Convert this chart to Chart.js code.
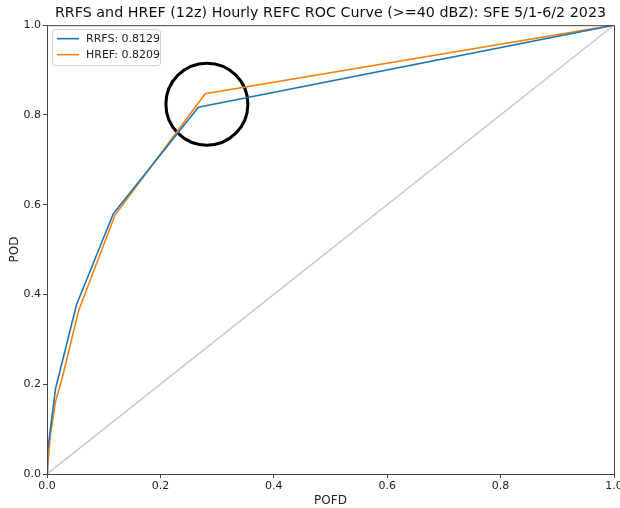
<!DOCTYPE html>
<html>
<head>
<meta charset="utf-8">
<script src="https://cdn.jsdelivr.net/npm/chart.js@4"></script>
<style>
  html, body { margin: 0; padding: 0; background: #fff; }
  #wrap { width: 620px; height: 508px; }
</style>
</head>
<body>
<div id="wrap"><canvas id="roc" width="620" height="508"></canvas></div>
<script>
// ROC points (POFD on x, POD on y)
const rrfsPofd = [0, 0.001, 0.015, 0.022, 0.052, 0.117, 0.267, 1];
const rrfsPod  = [0, 0.05, 0.19, 0.225, 0.377, 0.58, 0.817, 1];
const hrefPofd = [0, 0.006, 0.015, 0.027, 0.056, 0.12, 0.279, 1];
const hrefPod  = [0, 0.087, 0.161, 0.215, 0.365, 0.577, 0.847, 1];
const seriesNames = ['RRFS: 0.8129', 'HREF: 0.8209'];
const seriesColors = ['#1f77b4', '#ff7f0e'];
const tickValues = [0, 0.2, 0.4, 0.6, 0.8, 1.0];
// the hand-drawn circle round the knee
const circleAt = { x: 0.282, y: 0.824 };

const toPts = (xs, ys) => xs.map((x, i) => ({ x: x, y: ys[i] }));
const FONT = 'DejaVu Sans';

// legend sits inside the plot, matplotlib style
const insideLegend = {
    id: 'insideLegend',
    afterDraw(chart) {
        const ctx = chart.ctx;
        const a = chart.chartArea;
        const x0 = a.left + 5, y0 = a.top + 4, w = 108, h = 36;
        ctx.save();
        ctx.fillStyle = 'rgba(255,255,255,0.8)';
        ctx.strokeStyle = '#d0d0d0';
        ctx.lineWidth = 1;
        ctx.beginPath();
        ctx.roundRect(x0 + 0.5, y0 + 0.5, w, h, 3);
        ctx.fill();
        ctx.stroke();
        ctx.font = '11px "' + FONT + '"';
        ctx.textBaseline = 'middle';
        seriesNames.forEach((name, i) => {
            const y = y0 + 9.5 + i * 16;
            ctx.strokeStyle = seriesColors[i];
            ctx.lineWidth = 1.6;
            ctx.beginPath();
            ctx.moveTo(x0 + 5, y);
            ctx.lineTo(x0 + 27, y);
            ctx.stroke();
            ctx.fillStyle = '#222';
            ctx.fillText(name, x0 + 34, y);
        });
        ctx.restore();
    }
};

// full frame round the plot
const frame = {
    id: 'frame',
    afterDatasetsDraw(chart) {
        const ctx = chart.ctx;
        const a = chart.chartArea;
        ctx.save();
        ctx.strokeStyle = '#444';
        ctx.lineWidth = 1;
        ctx.strokeRect(a.left + 0.5, a.top + 0.5, a.right - a.left, a.bottom - a.top);
        ctx.restore();
    }
};

const axisCommon = {
    type: 'linear',
    min: 0,
    max: 1,
    afterBuildTicks(s) { s.ticks = tickValues.map(v => ({ value: v })); },
    grid: { display: true, drawOnChartArea: false, drawTicks: true, tickLength: 4, color: '#444' },
    border: { display: true, color: '#444' },
    ticks: {
        color: '#222',
        font: { family: FONT, size: 11 },
        padding: 2,
        maxRotation: 0,
        callback: v => v.toFixed(1)
    }
};

new Chart(document.getElementById('roc'), {
    type: 'scatter',
    data: {
        datasets: [
            {
                label: 'diag',
                data: toPts([0, 1], [0, 1]),
                showLine: true,
                borderColor: '#c8c8c8',
                borderWidth: 1.5,
                pointRadius: 0
            },
            {
                label: seriesNames[0],
                data: toPts(rrfsPofd, rrfsPod),
                showLine: true,
                borderColor: seriesColors[0],
                borderWidth: 1.6,
                pointRadius: 0
            },
            {
                label: seriesNames[1],
                data: toPts(hrefPofd, hrefPod),
                showLine: true,
                borderColor: seriesColors[1],
                borderWidth: 1.6,
                pointRadius: 0
            },
            {
                label: 'circle',
                data: [circleAt],
                pointRadius: 41,
                pointBorderWidth: 3,
                pointBorderColor: '#000',
                pointBackgroundColor: 'rgba(0,0,0,0)',
                clip: false
            }
        ]
    },
    options: {
        responsive: false,
        animation: false,
        events: [],
        layout: { autoPadding: false, padding: { left: 0, right: 6, top: 0, bottom: 0 } },
        plugins: {
            legend: { display: false },
            tooltip: { enabled: false },
            title: {
                display: true,
                fullSize: false,
                text: 'RRFS and HREF (12z) Hourly REFC ROC Curve (>=40 dBZ): SFE 5/1-6/2 2023',
                color: '#111',
                font: { family: FONT, size: 14.3, weight: 'normal' },
                padding: { top: 5, bottom: 3 }
            }
        },
        scales: {
            x: {
                ...axisCommon,
                title: { display: true, text: 'POFD', color: '#222', font: { family: FONT, size: 12 }, padding: { top: 4, bottom: 0 } },
                afterFit(s) { s.height = 34; s.paddingLeft = 0; s.paddingRight = 0; }
            },
            y: {
                ...axisCommon,
                title: { display: true, text: 'POD', color: '#222', font: { family: FONT, size: 12 }, padding: { top: 8, bottom: 4 } },
                afterFit(s) { s.width = 47; s.paddingTop = 0; s.paddingBottom = 0; }
            }
        }
    },
    plugins: [frame, insideLegend]
});
</script>
</body>
</html>
